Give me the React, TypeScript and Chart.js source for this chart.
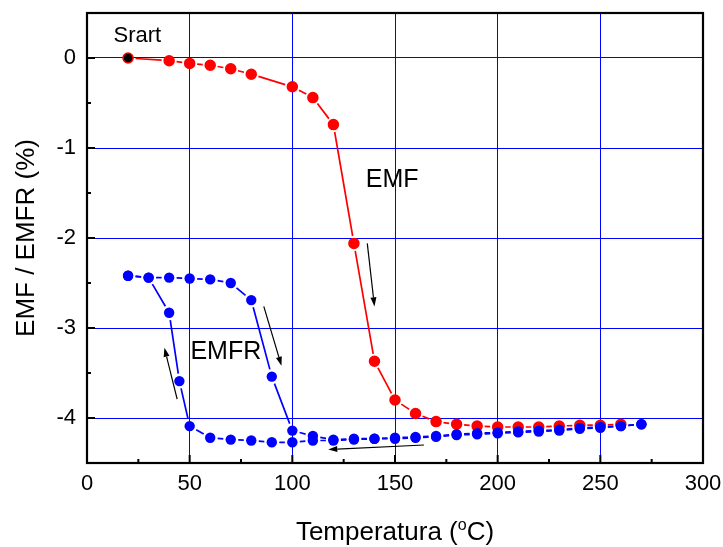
import { useEffect, useRef } from "react";
import { Chart, registerables } from "chart.js";

Chart.register(...registerables);

// EMF curve (first heating run)
const emfTemp = [20, 40, 50, 60, 70, 80, 100, 110, 120, 130, 140, 150, 160, 170, 180, 190, 200, 210, 220, 230, 240, 250, 260];
const emfValue = [0, -0.03, -0.06, -0.08, -0.12, -0.18, -0.32, -0.44, -0.74, -2.06, -3.37, -3.8, -3.95, -4.04, -4.07, -4.09, -4.1, -4.1, -4.1, -4.09, -4.08, -4.08, -4.07];

// EMFR loop: cooling branch, then heating branch
const emfrCoolTemp = [270, 260, 250, 240, 230, 220, 210, 200, 190, 180, 170, 160, 150, 140, 130, 120, 110, 100, 90, 80, 70, 60, 50, 45, 40, 30, 20];
const emfrCoolValue = [-4.07, -4.09, -4.11, -4.12, -4.14, -4.15, -4.16, -4.17, -4.18, -4.19, -4.21, -4.22, -4.23, -4.23, -4.24, -4.25, -4.25, -4.27, -4.27, -4.25, -4.24, -4.22, -4.09, -3.59, -2.83, -2.44, -2.42];
const emfrHeatTemp = [20, 30, 40, 50, 60, 70, 80, 90, 100, 110, 120, 130, 140, 150, 160, 170, 180, 190, 200, 210, 220, 230, 240, 250, 260, 270];
const emfrHeatValue = [-2.42, -2.44, -2.44, -2.45, -2.46, -2.5, -2.69, -3.54, -4.14, -4.2, -4.24, -4.23, -4.23, -4.22, -4.21, -4.2, -4.18, -4.17, -4.16, -4.15, -4.14, -4.13, -4.11, -4.1, -4.09, -4.07];

// Axis ticks
const xTickValues = [0, 50, 100, 150, 200, 250, 300];
const yTickValues = [0, -1, -2, -3, -4];
const xMinorTicks = [25, 75, 125, 175, 225, 275];
const yMinorTicks = [-0.5, -1.5, -2.5, -3.5];

const RED = "#ff0000";
const BLUE = "#0000ff";
const FONT = "'Liberation Sans', Arial, sans-serif";

// Direction arrows, in data coordinates: [x0, y0, x1, y1]
const arrows: number[][] = [
  [136.5, -2.06, 140.0, -2.76],
  [86.1, -2.76, 94.7, -3.42],
  [43.9, -3.79, 37.7, -3.22],
  [164.1, -4.3, 117.5, -4.35],
];

// Text notes: [text, x, y, font size]
const notes: [string, number, number, number][] = [
  ["Srart", 24.5, 0.24, 22],
  ["EMF", 148.6, -1.36, 25],
  ["EMFR", 67.6, -3.27, 25],
];

const toPoints = (xs: number[], ys: number[]) => xs.map((x, i) => ({ x, y: ys[i] }));

// Connecting lines that stop short of each marker
const gapLines = {
  id: "gapLines",
  beforeDatasetsDraw(chart: any) {
    const { ctx, chartArea: a } = chart;
    const gap = 7.5;
    ctx.save();
    ctx.beginPath();
    ctx.rect(a.left, a.top, a.right - a.left, a.bottom - a.top);
    ctx.clip();
    chart.data.datasets.forEach((ds: any, di: number) => {
      const meta = chart.getDatasetMeta(di);
      const pts = meta.data;
      ctx.strokeStyle = ds.lineColor;
      ctx.lineWidth = ds.lineWidth;
      ctx.beginPath();
      for (let i = 0; i < pts.length - 1; i++) {
        const p = pts[i];
        const q = pts[i + 1];
        const dx = q.x - p.x;
        const dy = q.y - p.y;
        const len = Math.hypot(dx, dy);
        if (len <= 2 * gap + 1) continue;
        const ux = dx / len;
        const uy = dy / len;
        ctx.moveTo(p.x + ux * gap, p.y + uy * gap);
        ctx.lineTo(q.x - ux * gap, q.y - uy * gap);
      }
      ctx.stroke();
    });
    ctx.restore();
  },
};

// Plot frame and inward tick marks
const frame = {
  id: "frame",
  afterDatasetsDraw(chart: any) {
    const { ctx, chartArea: a, scales } = chart;
    const xs = scales.x;
    const ys = scales.y;
    ctx.save();
    ctx.strokeStyle = "#000";
    ctx.lineWidth = 2;
    ctx.beginPath();
    xTickValues.forEach((v) => {
      const px = xs.getPixelForValue(v);
      ctx.moveTo(px, a.bottom);
      ctx.lineTo(px, a.bottom - 8);
    });
    xMinorTicks.forEach((v) => {
      const px = xs.getPixelForValue(v);
      ctx.moveTo(px, a.bottom);
      ctx.lineTo(px, a.bottom - 4);
    });
    yTickValues.forEach((v) => {
      const py = ys.getPixelForValue(v);
      ctx.moveTo(a.left, py);
      ctx.lineTo(a.left + 8, py);
    });
    yMinorTicks.forEach((v) => {
      const py = ys.getPixelForValue(v);
      ctx.moveTo(a.left, py);
      ctx.lineTo(a.left + 4, py);
    });
    ctx.stroke();
    ctx.lineWidth = 2.2;
    ctx.strokeRect(a.left, a.top, a.right - a.left, a.bottom - a.top);
    ctx.restore();
  },
};

// Arrows, notes and the x-axis title
const notesPlugin = {
  id: "notes",
  afterDraw(chart: any) {
    const { ctx, chartArea: a, scales } = chart;
    const xs = scales.x;
    const ys = scales.y;
    ctx.save();
    ctx.strokeStyle = "#000";
    ctx.fillStyle = "#000";
    ctx.lineWidth = 1.2;
    arrows.forEach(([x0, y0, x1, y1]) => {
      const ax = xs.getPixelForValue(x0);
      const ay = ys.getPixelForValue(y0);
      const bx = xs.getPixelForValue(x1);
      const by = ys.getPixelForValue(y1);
      const ang = Math.atan2(by - ay, bx - ax);
      const head = 9;
      const half = 3;
      const cx = bx - head * Math.cos(ang);
      const cy = by - head * Math.sin(ang);
      ctx.beginPath();
      ctx.moveTo(ax, ay);
      ctx.lineTo(cx, cy);
      ctx.stroke();
      ctx.beginPath();
      ctx.moveTo(bx, by);
      ctx.lineTo(cx + half * Math.sin(ang), cy - half * Math.cos(ang));
      ctx.lineTo(cx - half * Math.sin(ang), cy + half * Math.cos(ang));
      ctx.closePath();
      ctx.fill();
    });
    ctx.textAlign = "center";
    ctx.textBaseline = "middle";
    notes.forEach(([text, x, y, size]) => {
      ctx.font = `${size}px ${FONT}`;
      ctx.fillText(text, xs.getPixelForValue(x), ys.getPixelForValue(y));
    });

    // "Temperatura (°C)" with a raised small o
    const big = `26px ${FONT}`;
    const small = `16px ${FONT}`;
    const partA = "Temperatura (";
    const partB = "o";
    const partC = "C)";
    ctx.textAlign = "left";
    ctx.textBaseline = "alphabetic";
    ctx.font = big;
    const wA = ctx.measureText(partA).width;
    const wC = ctx.measureText(partC).width;
    ctx.font = small;
    const wB = ctx.measureText(partB).width;
    const total = wA + wB + wC;
    const cxm = (a.left + a.right) / 2;
    let x = cxm - total / 2;
    const base = 540;
    ctx.font = big;
    ctx.fillText(partA, x, base);
    x += wA;
    ctx.font = small;
    ctx.fillText(partB, x, base - 10);
    x += wB;
    ctx.font = big;
    ctx.fillText(partC, x, base);
    ctx.restore();
  },
};

export default function App() {
  const ref = useRef<HTMLCanvasElement | null>(null);

  useEffect(() => {
    if (!ref.current) return;
    const chart = new Chart(ref.current, {
      type: "scatter",
      data: {
        datasets: [
          {
            label: "EMFR cooling",
            data: toPoints(emfrCoolTemp, emfrCoolValue),
            showLine: false,
            lineColor: BLUE,
            lineWidth: 1.7,
            pointRadius: 5.2,
            pointBorderWidth: 0,
            pointBackgroundColor: BLUE,
            pointBorderColor: BLUE,
            order: 1,
          } as any,
          {
            label: "EMFR heating",
            data: toPoints(emfrHeatTemp, emfrHeatValue),
            showLine: false,
            lineColor: BLUE,
            lineWidth: 1.7,
            pointRadius: 5.2,
            pointBorderWidth: 0,
            pointBackgroundColor: BLUE,
            pointBorderColor: BLUE,
            order: 2,
          } as any,
          {
            label: "EMF",
            data: toPoints(emfTemp, emfValue),
            showLine: false,
            lineColor: RED,
            lineWidth: 1.7,
            pointRadius: 5,
            pointBorderWidth: 1.5,
            pointBackgroundColor: emfTemp.map((_, i) => (i === 0 ? "#000" : RED)),
            pointBorderColor: RED,
            order: 3,
          } as any,
        ],
      },
      options: {
        animation: false,
        responsive: false,
        devicePixelRatio: 1,
        layout: { padding: { left: 0, top: 13, right: 20, bottom: 0 } },
        plugins: {
          legend: { display: false },
          tooltip: { enabled: false },
        },
        scales: {
          x: {
            type: "linear",
            min: 0,
            max: 300,
            afterBuildTicks: (s: any) => {
              s.ticks = xTickValues.map((value) => ({ value }));
            },
            afterFit: (s: any) => {
              s.height = 84;
              s.paddingLeft = 0;
              s.paddingRight = 0;
            },
            ticks: {
              color: "#000",
              font: { family: FONT, size: 22 },
              padding: 8,
              maxRotation: 0,
              callback: (v: any) => String(v),
            },
            grid: {
              color: (c: any) => {
                const v = c.tick ? c.tick.value : null;
                return v === 0 || v === 300 ? "rgba(0,0,0,0)" : BLUE;
              },
              lineWidth: 1,
              drawTicks: false,
            },
            border: { display: false },
          },
          y: {
            type: "linear",
            min: -4.5,
            max: 0.5,
            afterBuildTicks: (s: any) => {
              s.ticks = yTickValues.map((value) => ({ value }));
            },
            afterFit: (s: any) => {
              s.width = 87;
              s.paddingTop = 0;
              s.paddingBottom = 0;
            },
            ticks: {
              color: "#000",
              font: { family: FONT, size: 22 },
              padding: 11,
              callback: (v: any) => String(v),
            },
            grid: {
              color: BLUE,
              lineWidth: 1,
              drawTicks: false,
            },
            border: { display: false },
            title: {
              display: true,
              text: "EMF / EMFR (%)",
              color: "#000",
              font: { family: FONT, size: 26 },
              padding: { top: 11, bottom: 0 },
            },
          },
        },
      } as any,
      plugins: [gapLines, frame, notesPlugin],
    });
    return () => chart.destroy();
  }, []);

  return (
    <div style={{ position: "absolute", left: 0, top: 0, width: 723, height: 547, background: "#fff" }}>
      <canvas ref={ref} width={723} height={547} />
    </div>
  );
}
